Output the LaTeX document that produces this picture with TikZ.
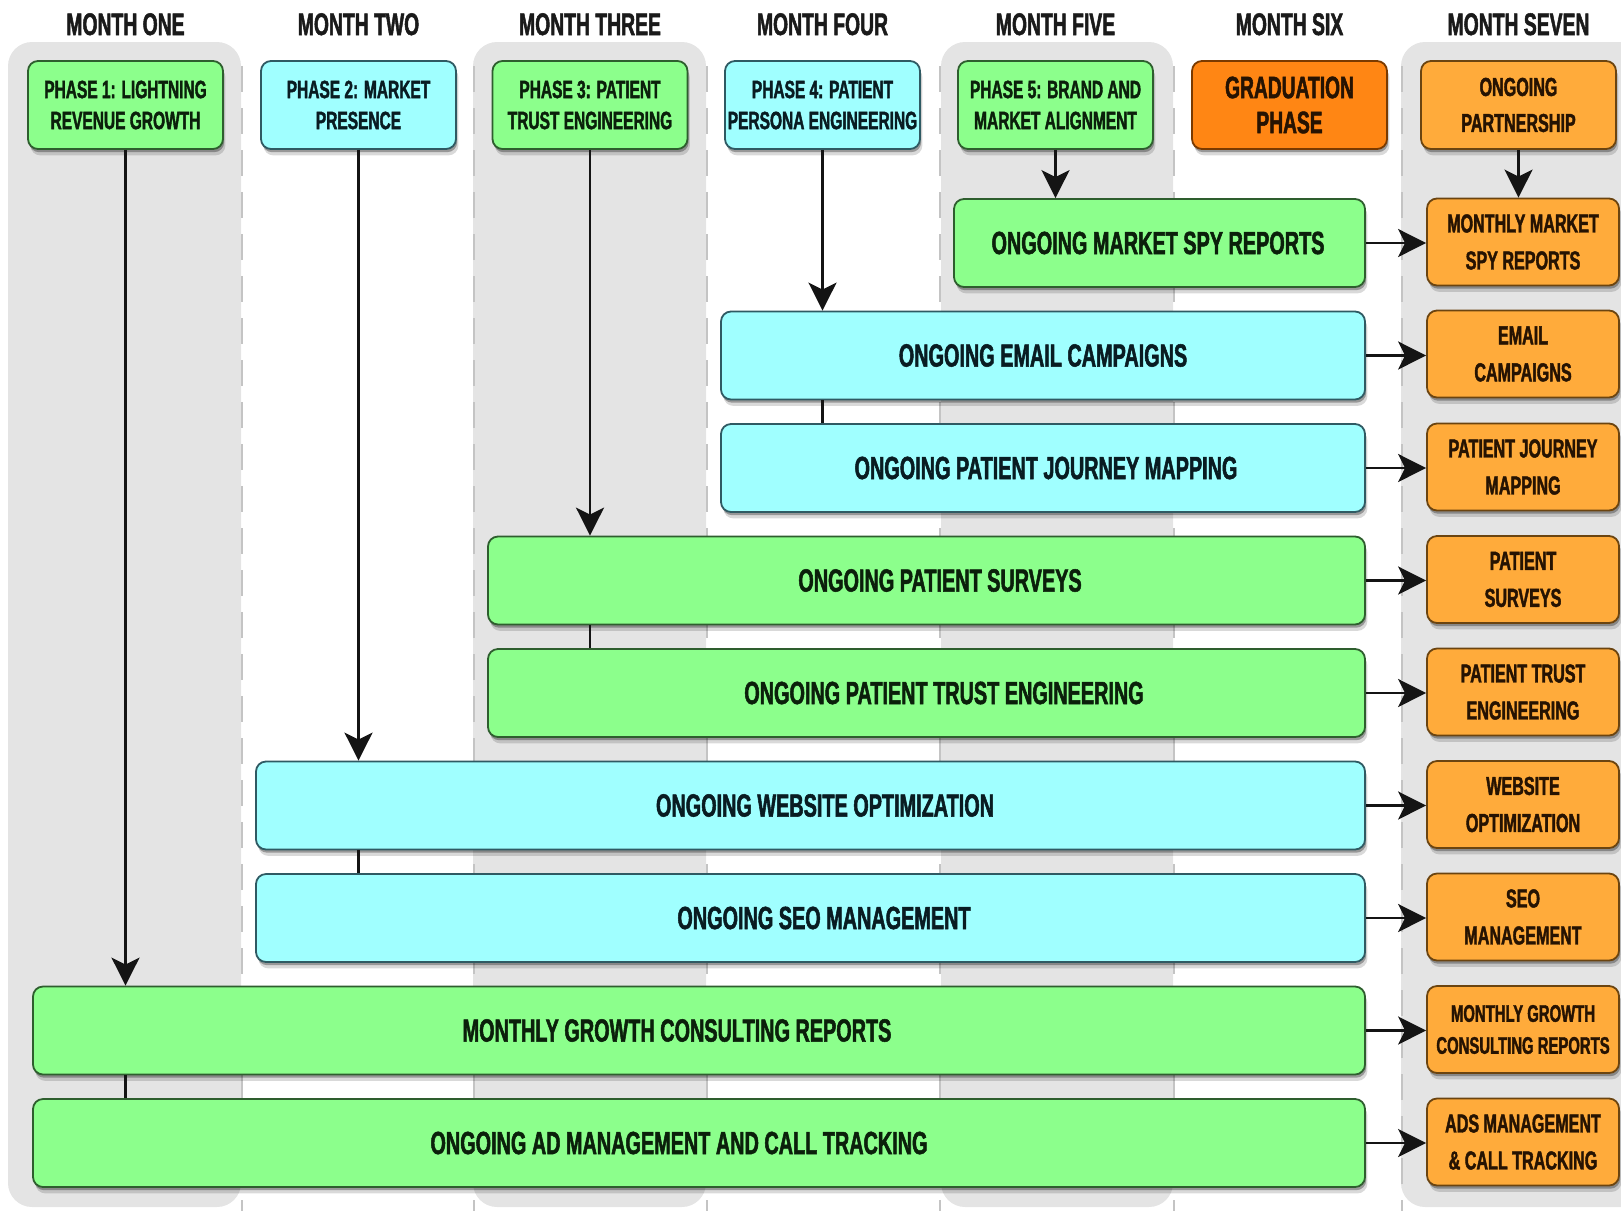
\documentclass[tikz,border=0pt]{standalone}
\usepackage{fontspec}
\newfontfamily\cond{Liberation Sans}[FakeStretch=0.62, BoldFeatures={FakeBold=1.6}]
\usetikzlibrary{arrows.meta,shadows}
\definecolor{gfill}{HTML}{8CFF8C}
\definecolor{gdraw}{HTML}{2E5E2E}
\definecolor{gtext}{HTML}{0B200B}
\definecolor{cfill}{HTML}{A0FFFF}
\definecolor{cdraw}{HTML}{2F5A63}
\definecolor{ctext}{HTML}{091C22}
\definecolor{grfill}{HTML}{FF8614}
\definecolor{grdraw}{HTML}{7A3A00}
\definecolor{ofill}{HTML}{FFAB3B}
\definecolor{odraw}{HTML}{6B4410}
\definecolor{otext}{HTML}{261302}
\definecolor{headc}{HTML}{1A1A1A}
\definecolor{colgray}{HTML}{E4E4E4}
\definecolor{sepgray}{HTML}{C4C4C4}
\tikzset{
  every node/.style={font=\cond\bfseries},
  boxbase/.style={rounded corners=5pt, line width=0.9pt,
    drop shadow={shadow xshift=0.6pt, shadow yshift=-1.6pt, opacity=0.30, fill=black},
    drop shadow={shadow xshift=1.2pt, shadow yshift=-3.2pt, opacity=0.15, fill=black}},
  phase/.style={boxbase, minimum width=97.5pt, minimum height=44pt, align=center, inner sep=1pt,
    font=\cond\bfseries\fontsize{12.5}{15.5}\selectfont},
  gph/.style={phase, fill=gfill, draw=gdraw, text=gtext},
  cph/.style={phase, fill=cfill, draw=cdraw, text=ctext},
  grph/.style={phase, fill=grfill, draw=grdraw, text=otext, font=\cond\bfseries\fontsize{15.5}{17.5}\selectfont},
  oph/.style={phase, fill=ofill, draw=odraw, text=otext, font=\cond\bfseries\fontsize{13}{18}\selectfont},
  ongo/.style={boxbase, minimum height=44pt, inner sep=0pt},
  gon/.style={ongo, fill=gfill, draw=gdraw},
  con/.style={ongo, fill=cfill, draw=cdraw},
  gtx/.style={font=\cond\bfseries\fontsize{16}{19}\selectfont, inner sep=0pt, text=gtext},
  ctx/.style={font=\cond\bfseries\fontsize{16}{19}\selectfont, inner sep=0pt, text=ctext},
  res/.style={boxbase, fill=ofill, draw=odraw, text=otext, minimum width=96pt, minimum height=43.5pt,
    align=center, inner sep=1pt, font=\cond\bfseries\fontsize{13}{18.5}\selectfont},
  arr/.style={line width=1.35pt, draw=black!92, -{Stealth[length=14pt,width=14pt,inset=3.5pt]}},
  conn/.style={line width=1.35pt, draw=black!92},
  head/.style={font=\cond\bfseries\fontsize{15.6}{18}\selectfont, text=headc, anchor=base, inner sep=0pt},
  colbg/.style={fill=colgray, rounded corners=12pt},
  sepline/.style={draw=sepgray, line width=1.2pt, dash pattern=on 13pt off 8pt},
}
\begin{document}
\begin{tikzpicture}[x=0.5pt, y=-0.5pt]
\useasboundingbox (0,0) rectangle (1621,1211);
\begin{scope}
\clip (0,0) rectangle (1621,1211);
% column backgrounds
\fill[colbg] (8,42) rectangle (241,1207);
\fill[colbg] (473,42) rectangle (706,1207);
\fill[colbg] (941,42) rectangle (1173,1207);
\fill[colbg] (1401,42) rectangle (1680,1207);
% separators
\foreach \sx in {242,474,707,940,1174,1402}
  \draw[sepline] (\sx,66) -- (\sx,1211);
\end{scope}

% headings
\node[head] (h1) at (125.5,35) {MONTH ONE};
\node[head] (h2) at (358.5,35) {MONTH TWO};
\node[head] (h3) at (590,35) {MONTH THREE};
\node[head] (h4) at (822.5,35) {MONTH FOUR};
\node[head] (h5) at (1055.5,35) {MONTH FIVE};
\node[head] (h6) at (1289.5,35) {MONTH SIX};
\node[head] (h7) at (1518.5,35) {MONTH SEVEN};

% phase boxes
\node[gph] (p1) at (125.5,105) {PHASE 1: LIGHTNING\\REVENUE GROWTH};
\node[cph] (p2) at (358.5,105) {PHASE 2: MARKET\\PRESENCE};
\node[gph] (p3) at (590,105) {PHASE 3: PATIENT\\TRUST ENGINEERING};
\node[cph] (p4) at (822.5,105) {PHASE 4: PATIENT\\PERSONA ENGINEERING};
\node[gph] (p5) at (1055.5,105) {PHASE 5: BRAND AND\\MARKET ALIGNMENT};
\node[grph] (p6) at (1289.5,105) {GRADUATION\\PHASE};
\node[oph] (p7) at (1518.5,105) {ONGOING\\PARTNERSHIP};

% ongoing boxes
\node[gon, minimum width=205.5pt] (spy) at (1159.5,243) {};
\node[con, minimum width=322pt] (email) at (1043,355.5) {};
\node[con, minimum width=322pt] (journey) at (1043,468) {};
\node[gon, minimum width=438.5pt] (surveys) at (926.5,580.5) {};
\node[gon, minimum width=438.5pt] (trust) at (926.5,693) {};
\node[con, minimum width=554.5pt] (website) at (810.5,805.5) {};
\node[con, minimum width=554.5pt] (seo) at (810.5,918) {};
\node[gon, minimum width=666pt] (growth) at (699,1030.5) {};
\node[gon, minimum width=666pt] (ads) at (699,1143) {};

% ongoing texts
\node[gtx] (spyT) at (1158,243) {ONGOING MARKET SPY REPORTS};
\node[ctx] (emailT) at (1043,355.5) {ONGOING EMAIL CAMPAIGNS};
\node[ctx] (journeyT) at (1046,468) {ONGOING PATIENT JOURNEY MAPPING};
\node[gtx] (surveysT) at (940,580.5) {ONGOING PATIENT SURVEYS};
\node[gtx] (trustT) at (944,693) {ONGOING PATIENT TRUST ENGINEERING};
\node[ctx] (websiteT) at (825,805.5) {ONGOING WEBSITE OPTIMIZATION};
\node[ctx] (seoT) at (824,918) {ONGOING SEO MANAGEMENT};
\node[gtx] (growthT) at (677,1030.5) {MONTHLY GROWTH CONSULTING REPORTS};
\node[gtx] (adsT) at (679,1143) {ONGOING AD MANAGEMENT AND CALL TRACKING};

% result boxes
\node[res] (rspy) at (1523,242) {MONTHLY MARKET\\SPY REPORTS};
\node[res] (remail) at (1523,354) {EMAIL\\CAMPAIGNS};
\node[res] (rjourney) at (1523,467) {PATIENT JOURNEY\\MAPPING};
\node[res] (rsurveys) at (1523,579.5) {PATIENT\\SURVEYS};
\node[res] (rtrust) at (1523,692) {PATIENT TRUST\\ENGINEERING};
\node[res] (rwebsite) at (1523,804.5) {WEBSITE\\OPTIMIZATION};
\node[res] (rseo) at (1523,917) {SEO\\MANAGEMENT};
\node[res, font=\cond\bfseries\fontsize{12}{16}\selectfont] (rgrowth) at (1523,1029.5) {MONTHLY GROWTH\\CONSULTING REPORTS};
\node[res] (rads) at (1523,1142) {ADS MANAGEMENT\\\& CALL TRACKING};

% vertical arrows
\draw[arr] (p1.south) -- (p1.south |- growth.north);
\draw[conn] (p1 |- growth.south) -- (p1 |- ads.north);
\draw[arr] (p2.south) -- (p2.south |- website.north);
\draw[conn] (p2 |- website.south) -- (p2 |- seo.north);
\draw[arr] (p3.south) -- (p3.south |- surveys.north);
\draw[conn] (p3 |- surveys.south) -- (p3 |- trust.north);
\draw[arr] (p4.south) -- (p4.south |- email.north);
\draw[conn] (p4 |- email.south) -- (p4 |- journey.north);
\draw[arr] (p5.south) -- (p5.south |- spy.north);
\draw[arr] (p7.south) -- (p7.south |- rspy.north);

% horizontal arrows
\foreach \a/\b in {spy/rspy,email/remail,journey/rjourney,surveys/rsurveys,trust/rtrust,website/rwebsite,seo/rseo,growth/rgrowth,ads/rads}
  \draw[arr] (\a.east) -- (\a.east -| \b.west);
\end{tikzpicture}
\end{document}
